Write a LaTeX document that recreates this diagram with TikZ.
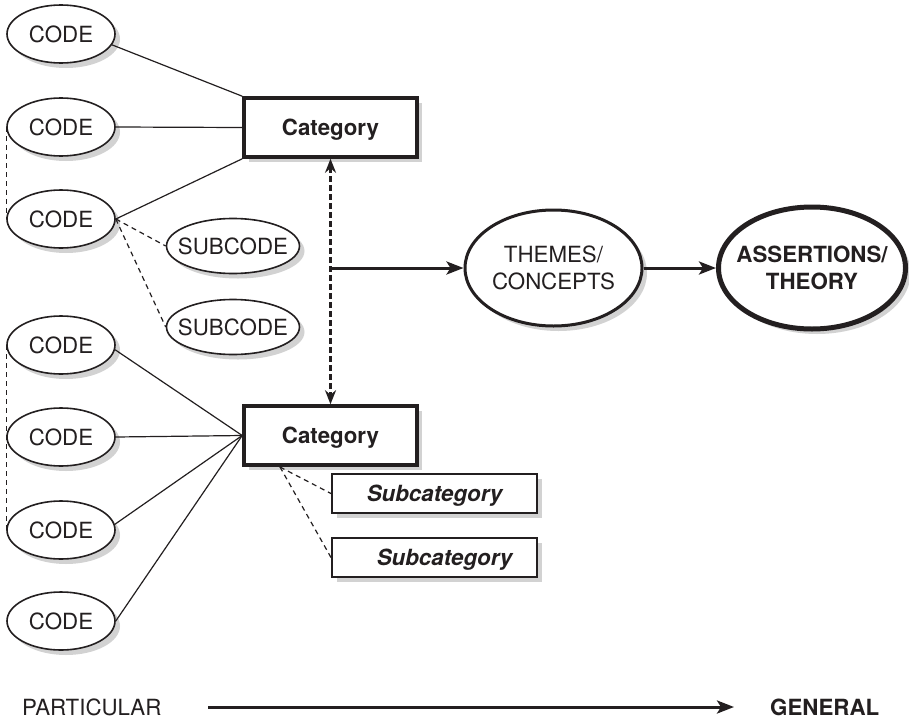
\documentclass[tikz,border=0pt]{standalone}
\usepackage{fontspec}
\setmainfont{TeX Gyre Heros}
\usetikzlibrary{shapes.geometric,arrows.meta,shadows}
\definecolor{ink}{HTML}{231F20}
\definecolor{shade}{HTML}{D2D2D2}
\tikzset{
  shad/.style={drop shadow={shadow xshift=5pt, shadow yshift=-5pt, fill=shade, opacity=1}},
  txt/.style={font=\fontsize{22.3}{27.5}\selectfont, text=ink},
  code/.style={ellipse, draw=ink, line width=1.6pt, minimum width=108pt, minimum height=58pt, inner sep=0pt, fill=white, shad, txt},
  subcode/.style={ellipse, draw=ink, line width=1.6pt, minimum width=133pt, minimum height=55pt, inner ysep=0pt, inner xsep=-12pt, fill=white, shad, txt},
  catbox/.style={rectangle, draw=ink, line width=3.6pt, minimum width=173pt, minimum height=59pt, inner sep=0pt, fill=white, shad, txt, font=\fontsize{22.3}{27.5}\selectfont\bfseries, text depth=0pt},
  subcat/.style={rectangle, draw=ink, line width=2pt, minimum width=205pt, minimum height=39pt, inner sep=0pt, fill=white, shad, txt, font=\fontsize{22.3}{27.5}\selectfont\bfseries\itshape, text depth=0pt},
  theme/.style={ellipse, draw=ink, line width=3pt, minimum width=177pt, minimum height=116pt, inner ysep=0pt, inner xsep=-4pt, fill=white, shad, txt, align=center},
  theory/.style={ellipse, draw=ink, line width=5pt, minimum width=187pt, minimum height=122pt, inner ysep=0pt, inner xsep=-11pt, fill=white, shad, txt, font=\fontsize{22.3}{27.5}\selectfont\bfseries, align=center},
  link/.style={draw=ink, line width=1.2pt},
  dlink/.style={draw=ink, line width=1.2pt, dash pattern=on 5pt off 4pt},
  flow/.style={draw=ink, line width=3pt, -{Stealth[length=17pt, width=13pt, inset=4pt]}},
  twoway/.style={draw=ink, line width=3pt, dash pattern=on 6pt off 3pt, {Stealth[length=14pt, width=11pt]}-{Stealth[length=14pt, width=11pt]}},
}
\begin{document}
\begin{tikzpicture}[x=1pt, y=-1pt]
\useasboundingbox (0,0) rectangle (909,720);
\fill[white] (0,0) rectangle (909,720);

% codes
\node[code] (c1) at (61,34) {CODE};
\node[code] (c2) at (61,127) {CODE};
\node[code] (c3) at (61,219) {CODE};
\node[code] (c4) at (61,345) {CODE};
\node[code] (c5) at (61,437) {CODE};
\node[code] (c6) at (61,530) {CODE};
\node[code] (c7) at (61,621) {CODE};

% subcodes
\node[subcode] (s1) at (233,246) {SUBCODE};
\node[subcode] (s2) at (233,327) {SUBCODE};

% categories
\node[catbox] (k1) at (330.5,127.5) {Category};
\node[catbox] (k2) at (330.5,435.5) {Category};

% subcategories
\node[subcat] (sc1) at (434.5,493.5) {Subcategory};
\node[subcat] (sc2) at (434.5,557.5) {\hspace*{20pt}Subcategory};

% themes and theory
\node[theme] (th) at (553.5,268) {THEMES/\\CONCEPTS};
\node[theory] (as) at (812,268) {ASSERTIONS/\\THEORY};

% code -> category links
\draw[link] (c1.-12) -- (k1.north west);
\draw[link] (c2.east) -- (k1.west);
\draw[link] (c3.east) -- (k1.south west);
\draw[link] (c4.-5) -- (k2.west);
\draw[link] (c5.east) -- (k2.west);
\draw[link] (c6.6) -- (k2.west);
\draw[link] (c7.east) -- (k2.west);

% dashed links
\draw[dlink] (c2.west) -- (c3.west);
\draw[dlink] (c4.west) -- (c6.west);
\draw[dlink] (c3.east) -- (s1.west);
\draw[dlink] (c3.east) -- (s2.west);
\coordinate (kf) at (280,467);
\draw[dlink] (kf) -- (sc1.west);
\draw[dlink] (kf) -- (sc2.west);

% two-way arrow between categories
\draw[twoway] (k1.south) -- (k2.north);

% flow arrows
\coordinate (j) at (k1.south |- th.west);
\draw[flow] (j) -- (th.west);
\draw[flow] (th.east) -- (as.west);

% bottom axis
\node[txt, anchor=west, inner sep=0pt] (part) at (22,707) {PARTICULAR};
\node[txt, anchor=west, inner sep=0pt, font=\fontsize{22.3}{27.5}\selectfont\bfseries] (gen) at (770,707) {GENERAL};
\coordinate (pa) at (208,707);
\coordinate (pb) at (734,707);
\draw[flow] (pa) -- (pb);
\end{tikzpicture}
\end{document}
